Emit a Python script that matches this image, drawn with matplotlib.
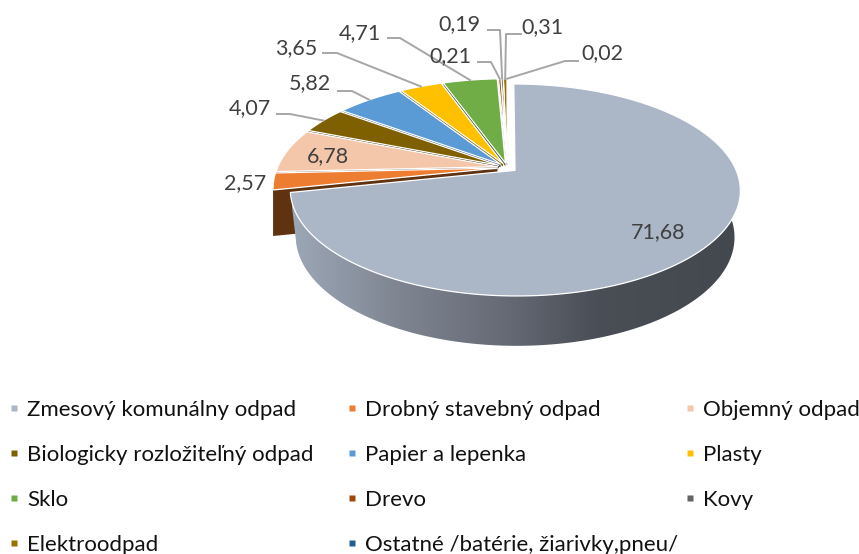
import numpy as np
import matplotlib
matplotlib.use("Agg")
import matplotlib.pyplot as plt
from matplotlib.patches import Polygon
from matplotlib.colors import LinearSegmentedColormap

plt.rcParams['font.family'] = ['Lato', 'DejaVu Sans']

names = ['Zmesový komunálny odpad', 'Drobný stavebný odpad', 'Objemný odpad',
         'Biologicky rozložiteľný odpad', 'Papier a lepenka', 'Plasty',
         'Sklo', 'Drevo', 'Kovy', 'Elektroodpad', 'Ostatné /batérie, žiarivky,pneu/']
values = [71.68, 2.57, 6.78, 4.07, 5.82, 3.65, 4.71, 0.21, 0.19, 0.31, 0.02]
labels = ['71,68', '2,57', '6,78', '4,07', '5,82', '3,65', '4,71', '0,21', '0,19', '0,31', '0,02']
colors = ['#ABB6C7', '#ED7D31', '#F4C7AB', '#7F6000', '#5B9BD5', '#FFC000',
          '#70AD47', '#9E480E', '#636363', '#997300', '#255E91']
wall_colors = ['#555B63', '#5F3210', '#7A6355', '#403000', '#2E4E6A', '#806000',
               '#385724', '#4F2407', '#323232', '#4D3A00', '#132F49']

# pixel position of each value label, and the knee of its leader (None = no leader)
label_pos = [(658, 232), (245, 183), (328, 156), (250, 108), (310, 83), (296, 48),
             (360, 33), (450, 56), (459, 24), (542, 27), (602, 53)]
leader_start = [None, None, None, (277, 114), (338, 91), (323, 53),
                (388, 38), (478, 62), (488, 30), (521, 34), (578, 61)]
leader_knee = [None, None, None, (290, 114), (352, 91), (337, 53),
               (400, 38), (491, 62), (500, 30), (506, 34), (565, 61)]
legend_x = [14, 352, 690]
legend_y = [408, 453, 498, 543]

# fake 3d: circle seen in perspective, slices pulled out from the centre
CX, CY = 507.3, 167.5
SX, SY, PERSP = 220, 101.3, 0.184
EXPLODE = 0.045
DEPTH = 46


def project(u, v, down=0, xscale=1.0, yscale=1.0):
    w = 1 + PERSP * v
    return CX + SX * xscale * u / w, CY - SY * yscale * v / w + down


def slice_angles(i):
    cum = np.cumsum([0] + values) / sum(values) * 2 * np.pi
    return cum[i], cum[i + 1]


def offset(i):
    a0, a1 = slice_angles(i)
    mid = (a0 + a1) / 2
    return EXPLODE * np.sin(mid), EXPLODE * np.cos(mid)


def arc(i, down=0, xscale=1.0, yscale=1.0, n=200):
    a0, a1 = slice_angles(i)
    ox, oy = offset(i)
    th = np.linspace(a0, a1, n)
    x, y = project(np.sin(th) + ox, np.cos(th) + oy, down, xscale, yscale)
    return np.column_stack([x, y])


def apex(i):
    ox, oy = offset(i)
    return np.array(project(ox, oy))


fig = plt.figure(figsize=(8.59, 5.54), dpi=100)
ax = fig.add_axes([0, 0, 1, 1])
ax.axis('off')

# back slices first, big one last
for i in list(range(len(values) - 1, 0, -1)) + [0]:
    top = arc(i)
    tip = apex(i)
    bottom = arc(i, DEPTH, 0.975, 1.03)
    if i == 0:
        ramp = LinearSegmentedColormap.from_list(
            'wall', [(0, '#9CA7B6'), (0.24, '#7E8591'), (0.47, '#666B76'),
                     (0.68, '#4A4E56'), (1, '#43474E')])
        xs = np.linspace(0, 1, 256).reshape(1, -1)
        im = ax.imshow(xs, cmap=ramp, extent=(292, 740, 360, 180), aspect='auto', zorder=1)
        patch = Polygon(np.vstack([top, bottom[::-1]]), transform=ax.transData, fc='none', ec='none')
        ax.add_patch(patch)
        im.set_clip_path(patch)
    else:
        # cut face under the leading edge, only the orange one shows its full height
        face_depth = DEPTH if i == 1 else 3
        if i == 1:
            ax.add_patch(Polygon(np.vstack([top, bottom[::-1]]), fc=wall_colors[i], ec='none', zorder=0))
        face = np.vstack([tip, top[0], top[0] + [0, face_depth], tip + [0, face_depth]])
        ax.add_patch(Polygon(face, fc=wall_colors[i], ec='none', zorder=(20 - i) if i > 1 else 0))
    z = 30 if i == 0 else 20 - i
    ax.add_patch(Polygon(np.vstack([tip, top]), fc=colors[i], ec='white', lw=0.9,
                         joinstyle='round', zorder=z))

for i, lab in enumerate(labels):
    ax.text(label_pos[i][0], label_pos[i][1], lab, color='#404040', fontsize=15.5,
            ha='center', va='center', zorder=40)
    if leader_start[i] is not None:
        a0, a1 = slice_angles(i)
        mid = (a0 + a1) / 2
        ox, oy = offset(i)
        end = project(np.sin(mid) + ox, np.cos(mid) + oy)
        px = [leader_start[i][0], leader_knee[i][0], end[0]]
        py = [leader_start[i][1], leader_knee[i][1], end[1]]
        ax.plot(px, py, color='#A6A6A6', lw=1.4, zorder=35, solid_joinstyle='round')

# legend runs row by row, three columns
for i, name in enumerate(names):
    row, col = divmod(i, 3)
    ax.plot(legend_x[col], legend_y[row], ls='none', marker='s', ms=5, mfc=colors[i], mec='none')
    ax.text(legend_x[col] + 13, legend_y[row], name, color='#111111', fontsize=16,
            ha='left', va='center_baseline')

ax.set_xlim(0, 859)
ax.set_ylim(554, 0)

fig.savefig('out.png', dpi=100)
